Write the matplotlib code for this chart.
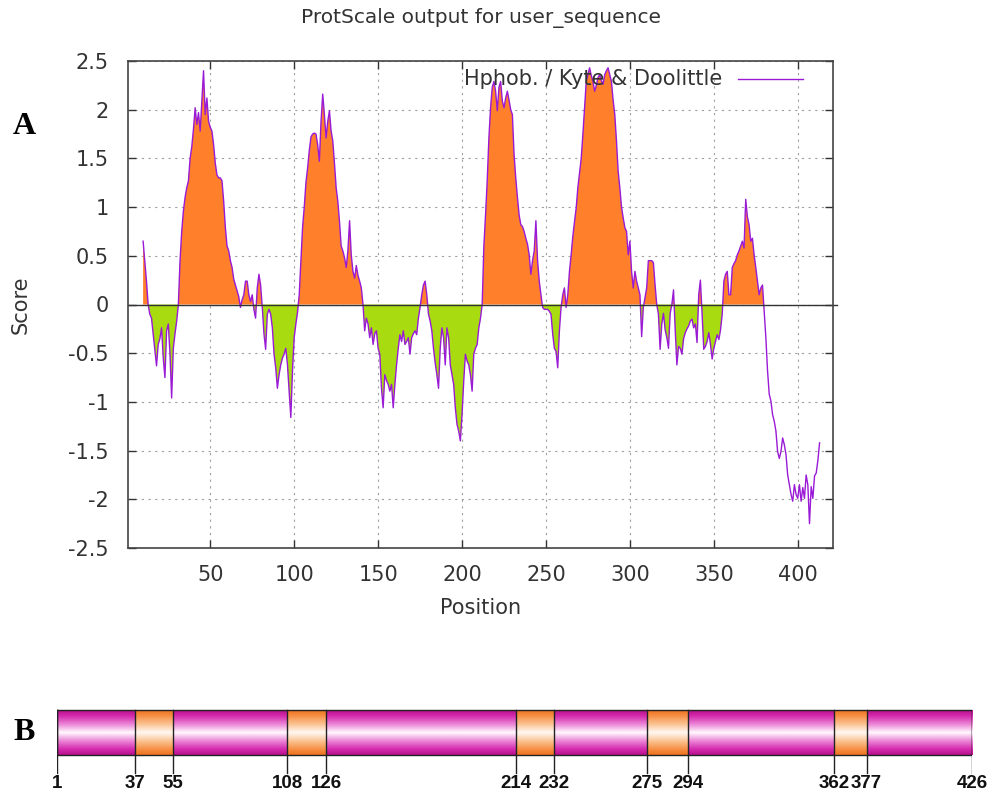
import numpy as np
import matplotlib
matplotlib.use("Agg")
import matplotlib.pyplot as plt
from matplotlib.colors import LinearSegmentedColormap
from matplotlib.ticker import FormatStrFormatter
from matplotlib.lines import Line2D

plt.rcParams['axes.unicode_minus'] = False

# ProtScale output, Kyte & Doolittle hydropathy (window centre positions 10..413)
start_pos = 10
score = [
    0.65, 0.45, 0.24, 0.0, -0.1, -0.14, -0.3, -0.45, -0.63, -0.41,            # 10-19
    -0.35, -0.24, -0.55, -0.75, -0.27, -0.2, -0.5, -0.96, -0.45, -0.3,        # 20-29
    -0.17, 0.0, 0.45, 0.75, 0.96, 1.1, 1.2, 1.27, 1.5, 1.62,                  # 30-39
    1.8, 2.02, 1.85, 1.97, 1.78, 2.1, 2.4, 1.95, 2.12, 1.88,                  # 40-49
    1.82, 1.78, 1.64, 1.45, 1.33, 1.3, 1.3, 1.27, 1.06, 0.79,                 # 50-59
    0.6, 0.55, 0.45, 0.38, 0.26, 0.2, 0.14, 0.08, -0.03, 0.05,                # 60-69
    0.1, 0.24, 0.24, 0.1, 0.03, 0.1, -0.05, -0.14, 0.17, 0.31,                # 70-79
    0.2, -0.03, -0.3, -0.46, -0.1, -0.05, -0.1, -0.24, -0.51, -0.65,          # 80-89
    -0.86, -0.72, -0.62, -0.55, -0.51, -0.45, -0.62, -0.89, -1.16, -0.68,     # 90-99
    -0.34, -0.2, -0.08, 0.1, 0.45, 0.79, 1.0, 1.25, 1.4, 1.58,                # 100-109
    1.72, 1.75, 1.76, 1.75, 1.64, 1.47, 1.88, 2.16, 1.95, 1.71,               # 110-119
    1.88, 1.99, 1.78, 1.68, 1.45, 1.2, 1.06, 0.85, 0.6, 0.55,                 # 120-129
    0.48, 0.38, 0.55, 0.86, 0.51, 0.34, 0.27, 0.4, 0.3, 0.24,                 # 130-139
    0.17, 0.0, -0.27, -0.14, -0.2, -0.34, -0.24, -0.41, -0.3, -0.27,          # 140-149
    -0.45, -0.51, -0.86, -1.06, -0.72, -0.78, -0.82, -0.89, -0.82, -1.06,     # 150-159
    -0.82, -0.62, -0.45, -0.31, -0.38, -0.27, -0.41, -0.38, -0.34, -0.51,     # 160-169
    -0.34, -0.3, -0.27, -0.31, -0.14, -0.03, 0.1, 0.2, 0.24, 0.1,             # 170-179
    -0.1, -0.17, -0.27, -0.45, -0.6, -0.72, -0.86, -0.45, -0.24, -0.34,       # 180-189
    -0.62, -0.24, -0.34, -0.62, -0.72, -0.82, -1.06, -1.23, -1.3, -1.4,       # 190-199
    -1.13, -0.79, -0.51, -0.58, -0.62, -0.72, -0.89, -0.51, -0.45, -0.41,     # 200-209
    -0.24, -0.14, 0.0, 0.6, 0.92, 1.27, 1.71, 2.02, 2.23, 2.29,               # 210-219
    2.19, 1.99, 2.23, 2.29, 2.09, 2.02, 2.12, 2.19, 2.1, 2.0,                 # 220-229
    1.95, 1.54, 1.3, 1.1, 0.92, 0.82, 0.8, 0.75, 0.68, 0.62,                  # 230-239
    0.51, 0.31, 0.45, 0.55, 0.86, 0.45, 0.24, 0.1, -0.03, -0.05,              # 240-249
    -0.05, -0.05, -0.07, -0.1, -0.3, -0.45, -0.48, -0.65, -0.27, -0.03,       # 250-259
    0.1, 0.17, -0.03, 0.1, 0.34, 0.51, 0.7, 0.85, 0.99, 1.2,                  # 260-269
    1.35, 1.5, 1.75, 2.02, 2.29, 2.36, 2.43, 2.35, 2.29, 2.19,                # 270-279
    2.25, 2.33, 2.36, 2.3, 2.26, 2.36, 2.4, 2.43, 2.36, 2.29,                 # 280-289
    2.1, 1.95, 1.68, 1.37, 1.2, 1.0, 0.89, 0.79, 0.75, 0.51,                  # 290-299
    0.65, 0.34, 0.17, 0.34, 0.24, 0.17, 0.1, -0.33, -0.03, 0.07,              # 300-309
    0.17, 0.45, 0.45, 0.45, 0.43, 0.2, 0.0, -0.1, -0.46, -0.2,                # 310-319
    -0.09, -0.26, -0.34, -0.45, -0.09, 0.0, 0.15, -0.26, -0.62, -0.43,        # 320-329
    -0.45, -0.51, -0.35, -0.29, -0.25, -0.22, -0.17, -0.15, -0.24, -0.2,      # 330-339
    -0.39, 0.1, 0.25, -0.09, -0.46, -0.43, -0.38, -0.29, -0.41, -0.56,        # 340-349
    -0.45, -0.38, -0.31, -0.36, -0.26, -0.1, 0.24, 0.31, 0.34, 0.1,           # 350-359
    0.1, 0.38, 0.42, 0.45, 0.51, 0.55, 0.6, 0.65, 0.58, 1.08,                 # 360-369
    0.9, 0.82, 0.65, 0.68, 0.51, 0.38, 0.24, 0.1, 0.17, 0.2,                  # 370-379
    -0.07, -0.34, -0.68, -0.92, -0.99, -1.13, -1.2, -1.3, -1.51, -1.58,       # 380-389
    -1.51, -1.37, -1.44, -1.54, -1.75, -1.85, -1.95, -2.02, -1.85, -1.95,     # 390-399
    -1.99, -1.85, -2.02, -1.88, -1.99, -1.75, -1.85, -2.25, -1.87, -1.99,     # 400-409
    -1.76, -1.73, -1.6, -1.42,                                                # 410-413
]
position = np.arange(start_pos, start_pos + len(score))
fill_until = 380  # the shaded area stops here, the tail is line only

# predicted transmembrane segments (panel B)
seq_length = 426
tm_start = [37, 108, 214, 275, 362]
tm_end = [55, 126, 232, 294, 377]

W, H = 989, 795
TXT = '#333333'
fig = plt.figure(figsize=(W / 100, H / 100), dpi=100)

# ---------------- panel A ----------------
ax = fig.add_axes([128 / W, 1 - 548 / H, (833 - 128) / W, (548 - 61) / H])
y = np.array(score)
inside = position <= fill_until
ax.fill_between(position, y, 0, where=(y >= 0) & inside, interpolate=True,
                color='#ff7f2a', linewidth=0)
ax.fill_between(position, y, 0, where=(y <= 0) & inside, interpolate=True,
                color='#a8dc10', linewidth=0)
ax.plot(position, y, color='#9a1ad6', linewidth=1.0)
ax.axhline(0, xmin=0, xmax=1.006, color=TXT, linewidth=1.0, clip_on=False)

ax.set_xlim(1, 421)
ax.set_ylim(-2.5, 2.5)
ax.set_xticks([50, 100, 150, 200, 250, 300, 350, 400])
ax.set_yticks(np.arange(-2.5, 2.51, 0.5))
ax.yaxis.set_major_formatter(FormatStrFormatter('%g'))
ax.grid(True, color='#a0a0a0', linestyle=(0, (2, 4)), linewidth=0.8)
ax.set_axisbelow(True)
ax.tick_params(direction='in', top=True, right=True, length=6, width=1,
               colors=TXT, labelsize=15, labelcolor=TXT)
ax.tick_params(axis='y', pad=14)
ax.tick_params(axis='x', pad=12)
for s in ax.spines.values():
    s.set_color('#444444')
    s.set_linewidth(1.2)

ax.set_xlabel('Position', fontsize=15, color=TXT)
ax.set_ylabel('Score', fontsize=15, color=TXT)
ax.xaxis.set_label_coords(0.5, -(598 - 548) / 487)
ax.yaxis.set_label_coords((31 - 128) / 705, 0.5)

fig.text(481 / W, 1 - 18 / H, 'ProtScale output for user_sequence',
         ha='center', va='center', fontsize=14.5, color=TXT)

# key, gnuplot style: text then line sample
fig.text(722 / W, 1 - 79 / H, 'Hphob. / Kyte & Doolittle', ha='right',
         va='center', fontsize=15, color=TXT)
fig.add_artist(Line2D([738 / W, 803 / W], [1 - 79 / H, 1 - 79 / H],
                      color='#9a1ad6', linewidth=1.0))

fig.text(24 / W, 1 - 126 / H, 'A', fontsize=23, fontweight='bold',
         family='Liberation Serif', ha='center', va='center')

# ---------------- panel B ----------------
bx = fig.add_axes([57 / W, 0, (972 - 57) / W, 90 / H])
bx.axis('off')

grad = np.abs(np.linspace(-1, 1, 64))[:, None]
magenta = LinearSegmentedColormap.from_list(
    'mag', [(0, '#fff4fc'), (0.35, '#ec8ad8'), (0.75, '#d42aae'), (1, '#b8108c')])
orange = LinearSegmentedColormap.from_list(
    'org', [(0, '#fff6ee'), (0.4, '#fbbf8c'), (0.8, '#f58a3c'), (1, '#ee7420')])

bar_top, bar_bot = 5, 50
edges = [1] + [v for pair in zip(tm_start, tm_end) for v in pair] + [seq_length]
for i in range(len(edges) - 1):
    cmap = orange if i % 2 == 1 else magenta
    bx.imshow(grad, cmap=cmap, aspect='auto', interpolation='bilinear',
              extent=(edges[i], edges[i + 1], bar_bot, bar_top), zorder=1)
bx.plot([1, seq_length, seq_length, 1, 1],
        [bar_top, bar_top, bar_bot, bar_bot, bar_top],
        color='#222222', linewidth=1.0, zorder=3)
for e in edges:
    bx.plot([e, e], [bar_top, 68], color='#222222', linewidth=1.0, zorder=3)
    bx.text(e, 79, str(e), ha='center', va='center', fontsize=13.5,
            fontweight='bold', family=['Liberation Sans', 'DejaVu Sans'],
            color='#111111')
bx.set_xlim(1, seq_length)
bx.set_ylim(90, 0)

fig.text(24 / W, 1 - 733 / H, 'B', fontsize=23, fontweight='bold',
         family='Liberation Serif', ha='center', va='center')

fig.savefig('out.png', dpi=100)
